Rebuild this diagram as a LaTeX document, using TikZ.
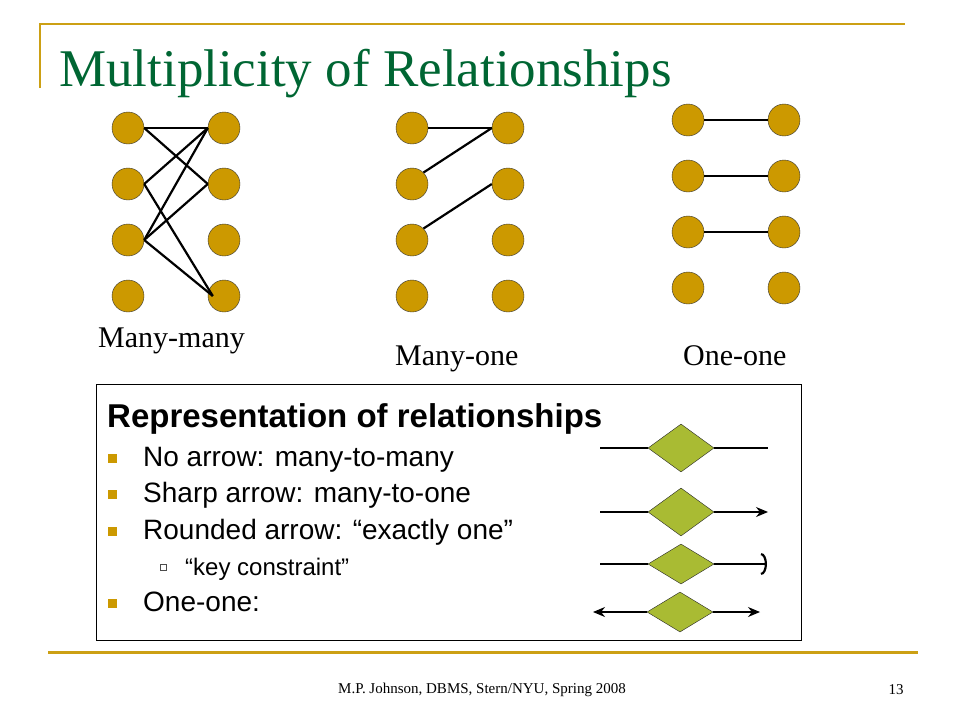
\documentclass[tikz,border=0pt]{standalone}
\usepackage{fontspec}
\setmainfont{Liberation Serif}
\setsansfont{Liberation Sans}
\usetikzlibrary{shapes.geometric,arrows.meta}
\definecolor{gold}{RGB}{204,153,0}
\definecolor{rulegold}{RGB}{204,160,20}
\definecolor{titlegreen}{RGB}{0,102,51}
\definecolor{relgreen}{RGB}{169,187,51}

\begin{document}
\begin{tikzpicture}[x=1pt,y=-1pt]
% Slide style
\tikzset{
    ent/.style={circle,draw=black!80,fill=gold,minimum size=32pt,inner sep=0pt},
    rel/.style={diamond,draw=black!85,fill=relgreen,minimum width=66pt,minimum height=48pt,inner sep=0pt},
    link/.style={line width=2.2pt},
    arm/.style={line width=1.2pt},
    item/.style={anchor=base west,font=\fontsize{28}{30}\sffamily},
    bul/.style={fill=gold,minimum size=9pt,inner sep=0pt},
    sharp/.tip={Stealth[length=12pt,width=10pt]}
}
\useasboundingbox (0,0) rectangle (960,720);
% Frame and title
\draw[rulegold,line width=2pt] (40,88) -- (40,24) -- (905,24);
\draw[rulegold,line width=3pt] (48,652) -- (918,652);
\node[anchor=base west,inner sep=0pt,text=titlegreen,font=\fontsize{53}{60}\selectfont] (title) at (59,86) {Multiplicity of Relationships};

% Many-many
\node[ent] (mmL1) at (128,128){}; \node[ent] (mmR1) at (224,128){};
\node[ent] (mmL2) at (128,184){}; \node[ent] (mmR2) at (224,184){};
\node[ent] (mmL3) at (128,240){}; \node[ent] (mmR3) at (224,240){};
\node[ent] (mmL4) at (128,296){}; \node[ent] (mmR4) at (224,296){};
\draw[link] (mmL1.east) -- (mmR1.west);
\draw[link] (mmL1.east) -- (mmR2.west);
\draw[link] (mmL2.east) -- (mmR1.west);
\draw[link] (mmL2.east) -- ([xshift=5pt]mmR4.west);
\draw[link] (mmL3.east) -- (mmR1.west);
\draw[link] (mmL3.east) -- (mmR2.west);
\draw[link] (mmL3.east) -- ([xshift=5pt]mmR4.west);
\node[anchor=base west,inner sep=0pt,font=\fontsize{30}{32}\selectfont] (mmLabel) at (98,347) {Many-many};

% Many-one
\node[ent] (moL1) at (412,128){}; \node[ent] (moR1) at (508,128){};
\node[ent] (moL2) at (412,184){}; \node[ent] (moR2) at (508,184){};
\node[ent] (moL3) at (412,240){}; \node[ent] (moR3) at (508,240){};
\node[ent] (moL4) at (412,296){}; \node[ent] (moR4) at (508,296){};
\draw[link] (moL1.east) -- (moR1.west);
\draw[link] (moL2.north east) -- (moR1.west);
\draw[link] (moL3.north east) -- (moR2.west);
\node[anchor=base west,inner sep=0pt,font=\fontsize{30}{32}\selectfont] (moLabel) at (395,365) {Many-one};

% One-one
\node[ent] (ooL1) at (688,120){}; \node[ent] (ooR1) at (784,120){};
\node[ent] (ooL2) at (688,176){}; \node[ent] (ooR2) at (784,176){};
\node[ent] (ooL3) at (688,232){}; \node[ent] (ooR3) at (784,232){};
\node[ent] (ooL4) at (688,288){}; \node[ent] (ooR4) at (784,288){};
\draw[link] (ooL1.east) -- (ooR1.west);
\draw[link] (ooL2.east) -- (ooR2.west);
\draw[link] (ooL3.east) -- (ooR3.west);
\node[anchor=base west,inner sep=0pt,font=\fontsize{30}{32}\selectfont] (ooLabel) at (683,365) {One-one};

% Representation box
\node[draw,line width=1pt,anchor=north west,minimum width=705pt,minimum height=256pt,inner sep=0pt] (box) at (96,384){};
\node[anchor=base west,inner sep=0pt,font=\fontsize{33}{36}\sffamily\bfseries] (head) at (107,427) {Representation of relationships};
\node[bul] (b1) at (112,458){}; \node[item,inner sep=0pt] (t1) at (143,466) {No arrow: many-to-many};
\node[bul] (b2) at (112,494){}; \node[item,inner sep=0pt] (t2) at (143,502) {Sharp arrow: many-to-one};
\node[bul] (b3) at (112,531){}; \node[item,inner sep=0pt] (t3) at (143,539) {Rounded arrow: “exactly one”};
\node[draw=black!70,line width=0.6pt,minimum size=6pt,inner sep=0pt] (b4) at (163,567){};
\node[item,inner sep=0pt,font=\fontsize{24}{26}\sffamily] (t4) at (185,575) {“key constraint”};
\node[bul] (b5) at (112,603){}; \node[item,inner sep=0pt] (t5) at (143,611) {One-one:};

% Diamonds
\node[rel] (d1) at (681,448){};
\node[rel] (d2) at (681,512){};
\node[rel,minimum height=40pt] (d3) at (681,564){};
\node[rel,minimum height=40pt] (d4) at (680,612){};
\coordinate (a1) at (600,448); \coordinate (z1) at (768,448);
\coordinate (a2) at (600,512); \coordinate (z2) at (768,512);
\coordinate (a3) at (600,564); \coordinate (z3) at (767,564);
\coordinate (a4) at (593,612); \coordinate (z4) at (760,612);
\draw[arm] (a1) -- (d1);
\draw[arm] (d1) -- (z1);
\draw[arm] (a2) -- (d2);
\draw[arm,-sharp] (d2) -- (z2);
\draw[arm] (a3) -- (d3);
\draw[arm,-{Arc Barb[length=6pt,width=22pt,line width=2.2pt]}] (d3) -- (z3);
\draw[arm,sharp-] (a4) -- (d4);
\draw[arm,-sharp] (d4) -- (z4);

% Footer
\node[font=\fontsize{15}{18}\selectfont] (foot) at (482,690) {M.P. Johnson, DBMS, Stern/NYU, Spring 2008};
\node[font=\fontsize{15}{18}\selectfont] (page) at (896,690) {13};
\end{tikzpicture}
\end{document}
